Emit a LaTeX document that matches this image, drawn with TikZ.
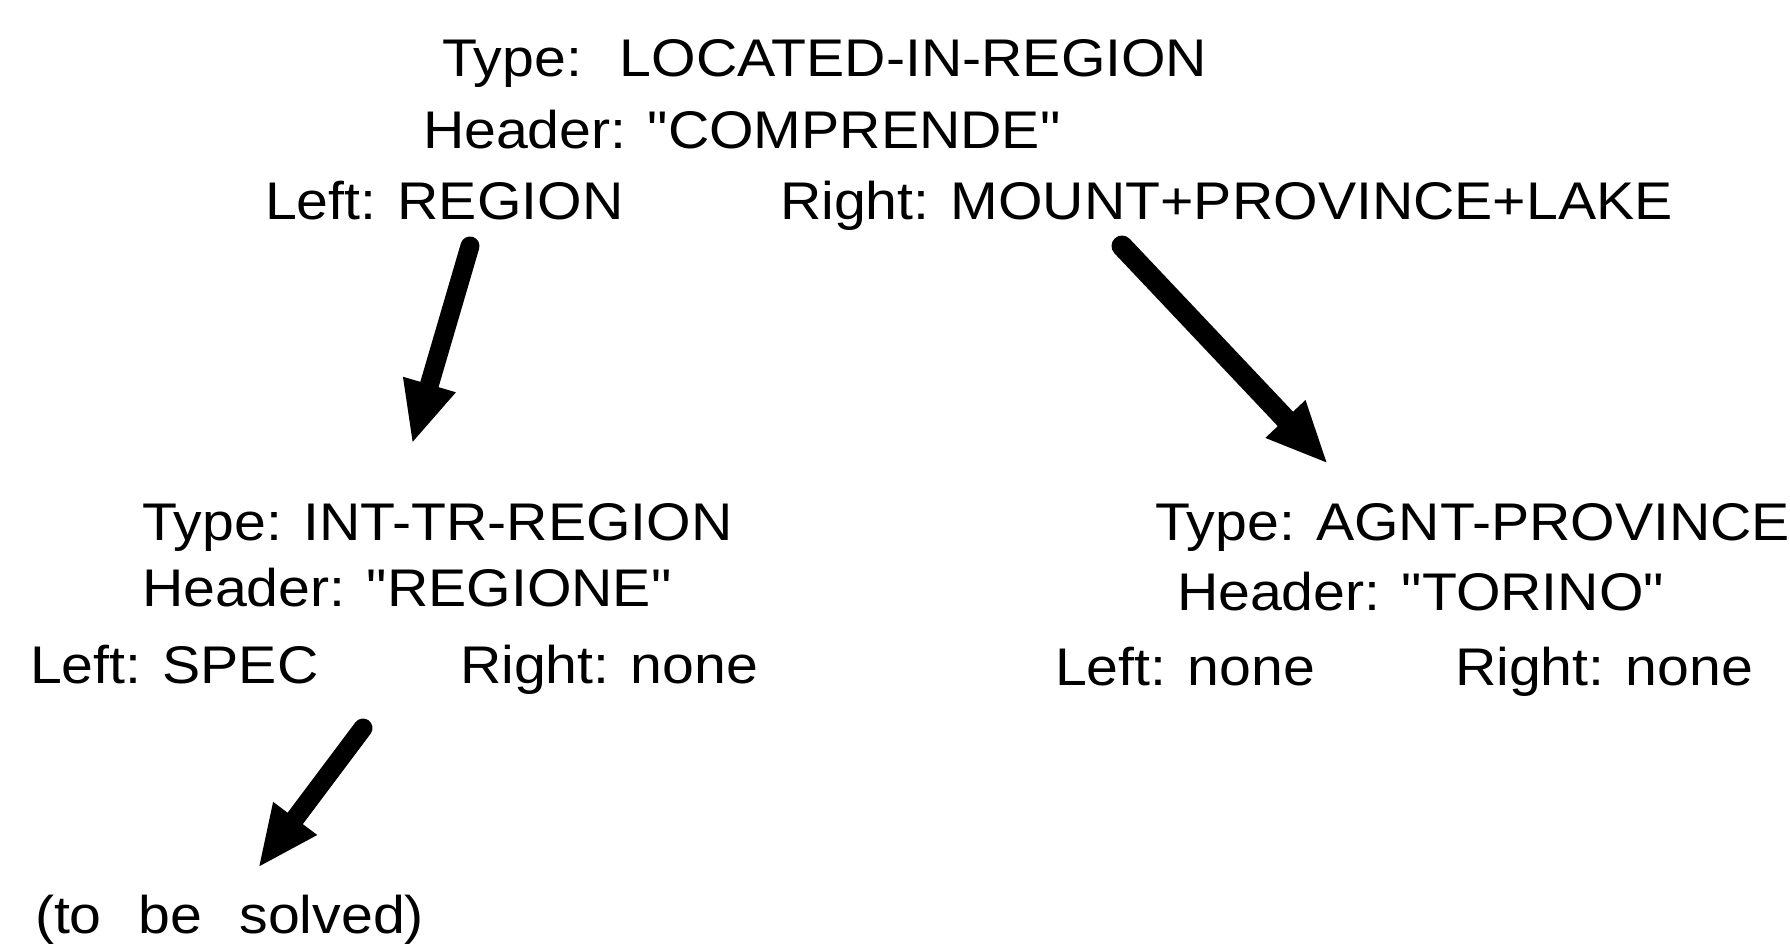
\documentclass[tikz,border=0pt]{standalone}
\usepackage{fontspec}
\newfontfamily\lfont{Liberation Sans}[FakeStretch=1.08]
\usetikzlibrary{arrows.meta}
\tikzset{
  lbl/.style={anchor=base west, inner sep=0pt, outer sep=0pt, font=\lfont\fontsize{53}{60}\selectfont},
  bigarrow/.style={line width=19pt, line cap=round, -{Triangle[length=62pt,width=50pt]}}
}
\begin{document}
\begin{tikzpicture}[x=1pt,y=-1pt]
\useasboundingbox (0,0) rectangle (1790,951);
% top frame
\node[lbl] (ttype) at (442,76) {Type:\hspace{38pt}LOCATED-IN-REGION};
\node[lbl] (thead) at (423,148) {Header: "COMPRENDE"};
\node[lbl] (tleft) at (265,219) {Left: REGION};
\node[lbl] (tright) at (780,219) {Right: MOUNT+PROVINCE+LAKE};
% left frame
\node[lbl] (ltype) at (142,540) {Type: INT-TR-REGION};
\node[lbl] (lhead) at (142,606) {Header: "REGIONE"};
\node[lbl] (lleft) at (30,683) {Left: SPEC};
\node[lbl] (lright) at (460,683) {Right: none};
% right frame
\node[lbl] (rtype) at (1155,540) {Type: AGNT-PROVINCE};
\node[lbl] (rhead) at (1177,610) {Header: "TORINO"};
\node[lbl] (rleft) at (1055,685) {Left: none};
\node[lbl] (rright) at (1455,685) {Right: none};
% unsolved
\node[lbl] (solved) at (35,933) {(to\hspace{37pt}be\hspace{37pt}solved)};
% arrow endpoints
\coordinate (a1s) at (470,246);
\coordinate (a1e) at (412,444);
\coordinate (a2s) at (1122,246);
\coordinate (a2e) at (1328,464);
\coordinate (a3s) at (363,728);
\coordinate (a3e) at (258,868);
\draw[bigarrow] (a1s) -- (a1e);
\draw[bigarrow, line width=21pt] (a2s) -- (a2e);
\draw[bigarrow] (a3s) -- (a3e);
\end{tikzpicture}
\end{document}
